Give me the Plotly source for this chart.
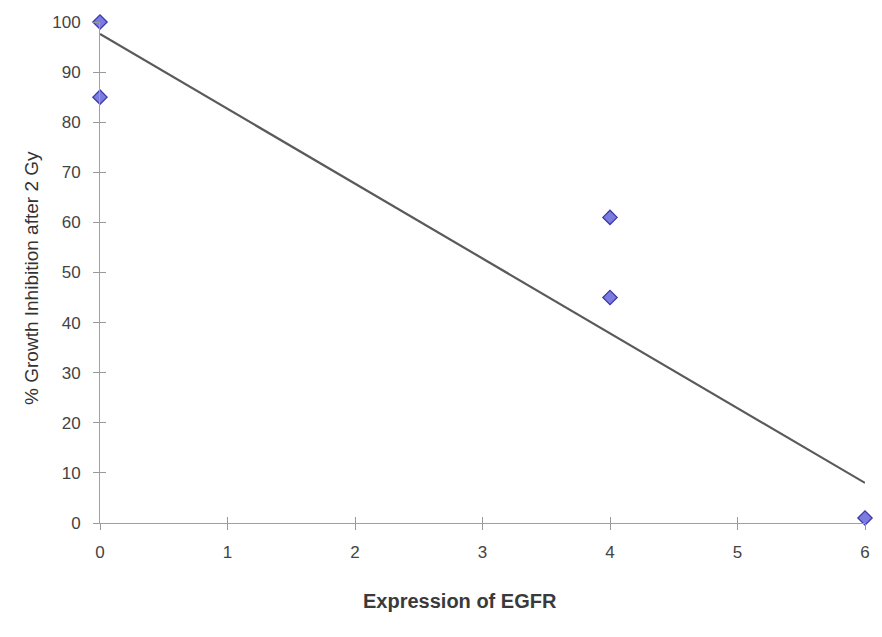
import plotly.graph_objects as go

# Measured samples
egfr_expression = [0, 0, 4, 4, 6]
growth_inhibition = [100, 85, 61, 45, 1]

# Linear trend line endpoints
trend_x = [0, 6]
trend_y = [97.6, 8]

x_ticks = [0, 1, 2, 3, 4, 5, 6]
y_ticks = [0, 10, 20, 30, 40, 50, 60, 70, 80, 90, 100]

fig = go.Figure()

fig.add_trace(go.Scatter(
    x=trend_x, y=trend_y, mode="lines",
    line=dict(color="#5a5a5a", width=2.2),
    showlegend=False, hoverinfo="skip",
))

fig.add_trace(go.Scatter(
    x=egfr_expression, y=growth_inhibition, mode="markers",
    marker=dict(symbol="diamond", size=11, color="#7b7be0",
                line=dict(color="#3a3aa8", width=1.3)),
    showlegend=False, cliponaxis=False,
))

axis_font = dict(family="Liberation Sans, Arial, sans-serif", size=17, color="#444444")
common = dict(showgrid=False, zeroline=False, ticklen=6, tickcolor="#999999", tickwidth=1)

fig.update_layout(
    width=882, height=637,
    paper_bgcolor="white", plot_bgcolor="white",
    margin=dict(l=100, r=15, t=22, b=114),
    xaxis=dict(range=[0, 6], tickvals=x_ticks, ticks="outside", showline=True,
               linecolor="#a0a0a0", linewidth=1, tickfont=axis_font,
               ticklabelstandoff=8, **common),
    yaxis=dict(range=[0, 100], tickvals=y_ticks, ticks="outside", showline=True,
               linecolor="#a0a0a0", linewidth=1, tickfont=axis_font,
               ticklabelstandoff=9, **common),
    # inward tick marks so the ticks cross the axis lines
    xaxis2=dict(range=[0, 6], tickvals=x_ticks, ticks="inside", overlaying="x",
                showticklabels=False, showline=False, **common),
    yaxis2=dict(range=[0, 100], tickvals=y_ticks, ticks="inside", overlaying="y",
                showticklabels=False, showline=False, **common),
    annotations=[
        dict(text="% Growth Inhibition after 2 Gy", xref="paper", yref="paper",
             x=-0.106, y=0.49, textangle=-90, showarrow=False,
             font=dict(family="Liberation Sans, Arial, sans-serif", size=19, color="#333333")),
        dict(text="<b>Expression of EGFR</b>", xref="paper", yref="paper",
             x=0.47, y=-0.155, yanchor="middle", showarrow=False,
             font=dict(family="Liberation Sans, Arial, sans-serif", size=20, color="#3a3a3a")),
    ],
)

# invisible trace to bring the overlay axes into the figure
fig.add_trace(go.Scatter(x=[None], y=[None], xaxis="x2", yaxis="y2",
                         showlegend=False, hoverinfo="skip"))

fig.write_html("out.html")
